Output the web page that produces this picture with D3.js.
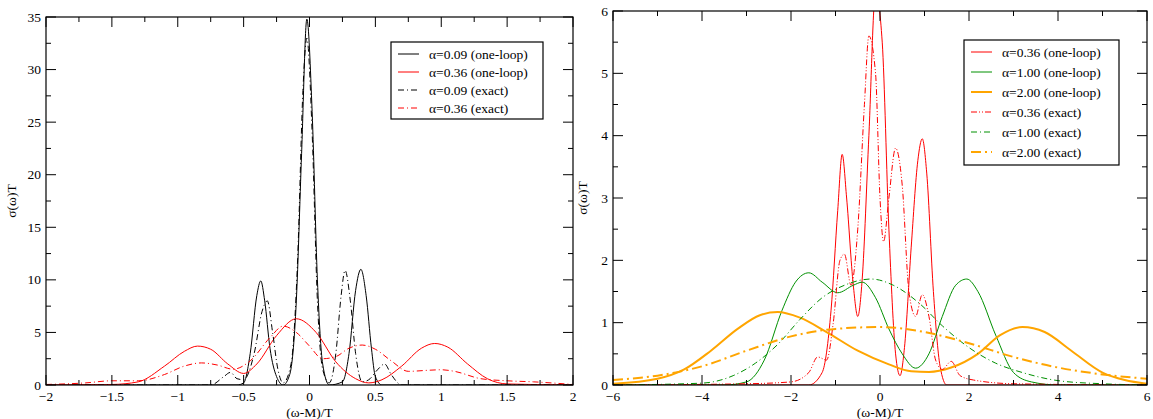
<!DOCTYPE html>
<html><head><meta charset="utf-8">
<script src="https://cdn.jsdelivr.net/npm/d3@7"></script>
<style>body{margin:0;background:#fff}text{font-family:"Liberation Serif",serif;}</style>
</head><body><svg id="c" width="1153" height="419"></svg>
<script>
// left panel
const L_loop009 = [[-2,0],[-0.55,0],[-0.5,0.2],[-0.45,3],[-0.4,8.5],[-0.37,9.9],[-0.34,8],[-0.3,3.5],[-0.25,0.8],[-0.2,0],[-0.15,1],[-0.1,8],[-0.06,22],[-0.02,34.8],[0.02,26],[0.06,10],[0.1,2],[0.15,0],[0.25,0.3],[0.3,3],[0.35,9],[0.39,11],[0.43,8.5],[0.47,3.5],[0.5,0.8],[0.55,0],[2,0]];
const L_loop036 = [[-2,0],[-1.5,0.05],[-1.3,0.3],[-1.1,1.8],[-0.95,3.2],[-0.85,3.7],[-0.75,3.4],[-0.62,2],[-0.5,1.1],[-0.4,2],[-0.25,4.7],[-0.1,6.3],[0.05,5],[0.2,2.2],[0.35,0.6],[0.45,0.2],[0.55,0.5],[0.7,1.8],[0.85,3.5],[0.95,3.95],[1.05,3.6],[1.2,2],[1.35,0.6],[1.5,0.1],[2,0]];
const L_exact009 = [[-2,0],[-0.75,0],[-0.65,0.8],[-0.6,1.2],[-0.55,0.6],[-0.5,0.5],[-0.42,3],[-0.36,7],[-0.32,8],[-0.28,5],[-0.24,1.5],[-0.2,0.2],[-0.14,2],[-0.09,12],[-0.05,28],[-0.02,33],[0.02,24],[0.06,8],[0.1,1.5],[0.15,0.2],[0.2,3],[0.24,8.5],[0.27,10.9],[0.31,8],[0.35,3],[0.4,0.3],[0.45,0.5],[0.52,1.5],[0.57,2],[0.62,1],[0.7,0],[2,0]];
const L_exact036 = [[-2,0.05],[-1.7,0.2],[-1.5,0.4],[-1.3,0.4],[-1.1,1],[-0.95,1.8],[-0.82,2.1],[-0.7,1.9],[-0.58,1.5],[-0.45,2.3],[-0.3,4.5],[-0.2,5.6],[-0.1,5],[0,3.7],[0.1,2.5],[0.2,2.7],[0.3,3.5],[0.4,3.8],[0.5,3.4],[0.62,2.3],[0.75,1.3],[0.9,1.4],[1.0,1.45],[1.1,1.3],[1.3,0.6],[1.5,0.4],[1.7,0.3],[2,0.05]];
// right panel
const R_loop036 = [[-6,0],[-1.6,0],[-1.3,0.2],[-1.1,1.2],[-0.95,2.8],[-0.85,3.7],[-0.75,3],[-0.6,1.6],[-0.5,1.1],[-0.4,1.7],[-0.25,4],[-0.1,6.3],[0.05,5.5],[0.2,2.5],[0.35,0.5],[0.45,0.15],[0.55,0.6],[0.7,2.2],[0.85,3.6],[0.95,3.95],[1.05,3.4],[1.2,1.5],[1.35,0.3],[1.5,0],[6,0]];
const R_loop100 = [[-6,0],[-3.5,0],[-3,0.05],[-2.6,0.4],[-2.2,1.2],[-1.9,1.65],[-1.6,1.8],[-1.3,1.65],[-0.95,1.48],[-0.6,1.6],[-0.4,1.65],[-0.1,1.4],[0.2,0.9],[0.5,0.5],[0.8,0.27],[1.1,0.5],[1.4,1.1],[1.7,1.6],[1.95,1.7],[2.2,1.5],[2.6,0.8],[3,0.2],[3.4,0.05],[4,0],[6,0]];
const R_loop200 = [[-6,0.02],[-5,0.1],[-4.4,0.25],[-3.8,0.55],[-3.2,0.9],[-2.7,1.12],[-2.3,1.17],[-1.8,1.08],[-1.2,0.85],[-0.5,0.55],[0.2,0.33],[0.7,0.22],[1.1,0.21],[1.6,0.28],[2.2,0.5],[2.7,0.8],[3.2,0.93],[3.7,0.85],[4.3,0.55],[5,0.2],[5.5,0.08],[6,0.02]];
const R_exact036 = [[-6,0],[-3,0.02],[-2,0.05],[-1.6,0.2],[-1.4,0.45],[-1.2,0.4],[-1.05,1],[-0.9,2],[-0.8,2.1],[-0.65,1.6],[-0.5,2.5],[-0.35,4.5],[-0.25,5.6],[-0.1,5],[0,3],[0.08,2.3],[0.2,3],[0.35,3.8],[0.5,3.2],[0.65,1.5],[0.8,1.1],[0.95,1.45],[1.1,1.1],[1.25,0.4],[1.4,0.25],[1.6,0.38],[1.8,0.15],[2.1,0.08],[3,0.02],[6,0]];
const R_exact100 = [[-6,0],[-4,0.03],[-3.3,0.15],[-2.8,0.35],[-2.3,0.65],[-1.8,1.05],[-1.3,1.4],[-0.8,1.6],[-0.2,1.7],[0.3,1.6],[0.9,1.3],[1.4,0.95],[2,0.6],[2.6,0.35],[3.2,0.2],[4,0.07],[5,0.02],[6,0]];
const R_exact200 = [[-6,0.08],[-5,0.15],[-4,0.3],[-3,0.55],[-2,0.78],[-1,0.9],[0,0.93],[1,0.85],[2,0.67],[3,0.45],[4,0.28],[5,0.17],[6,0.1]];

const RED = '#ff0000', GREEN = '#009000', ORANGE = '#ffa500';
const svg = d3.select('#c');

function panel(o) {
  const g = svg.append('g');
  const x = d3.scaleLinear().domain(o.xd).range([o.x0, o.x1]);
  const y = d3.scaleLinear().domain(o.yd).range([o.y1, o.y0]);
  const clipId = 'clip' + o.x0;
  svg.append('clipPath').attr('id', clipId).append('rect')
    .attr('x', o.x0).attr('y', o.y0).attr('width', o.x1 - o.x0).attr('height', o.y1 - o.y0);
  const line = d3.line().x(d => x(d[0])).y(d => y(d[1])).curve(d3.curveMonotoneX);
  const cg = g.append('g').attr('clip-path', `url(#${clipId})`);
  o.series.forEach(s => {
    cg.append('path').attr('d', line(s.data)).attr('fill', 'none')
      .attr('stroke', s.color).attr('stroke-width', s.w || 1)
      .attr('stroke-dasharray', s.dash || null);
  });
  // frame and ticks (inward, all sides)
  g.append('rect').attr('x', o.x0).attr('y', o.y0).attr('width', o.x1 - o.x0).attr('height', o.y1 - o.y0)
    .attr('fill', 'none').attr('stroke', '#000').attr('stroke-width', 1.2);
  const tk = (vals, len, axis) => vals.forEach(v => {
    if (axis === 'x') {
      const px = x(v);
      g.append('line').attr('x1', px).attr('x2', px).attr('y1', o.y1).attr('y2', o.y1 - len).attr('stroke', '#000');
      g.append('line').attr('x1', px).attr('x2', px).attr('y1', o.y0).attr('y2', o.y0 + len).attr('stroke', '#000');
    } else {
      const py = y(v);
      g.append('line').attr('y1', py).attr('y2', py).attr('x1', o.x0).attr('x2', o.x0 + len).attr('stroke', '#000');
      g.append('line').attr('y1', py).attr('y2', py).attr('x1', o.x1).attr('x2', o.x1 - len).attr('stroke', '#000');
    }
  });
  const xMaj = d3.range(o.xd[0], o.xd[1] + 1e-9, o.xs), yMaj = d3.range(o.yd[0], o.yd[1] + 1e-9, o.ys);
  tk(xMaj, 10, 'x'); tk(d3.range(o.xd[0] + o.xs / 2, o.xd[1], o.xs), 5, 'x');
  tk(yMaj, 10, 'y'); tk(d3.range(o.yd[0] + o.ys / 2, o.yd[1], o.ys), 5, 'y');
  xMaj.forEach(v => g.append('text').attr('x', x(v)).attr('y', o.y1 + 16).attr('text-anchor', 'middle')
    .attr('font-size', 13.5).text(d3.format('~g')(+v.toFixed(2))));
  yMaj.forEach(v => g.append('text').attr('x', o.x0 - 5).attr('y', y(v) + 4.5).attr('text-anchor', 'end')
    .attr('font-size', 13.5).text(+v.toFixed(2)));
  g.append('text').attr('x', (o.x0 + o.x1) / 2).attr('y', o.y1 + 32).attr('text-anchor', 'middle')
    .attr('font-size', 13.5).text('(ω-M)/T');
  g.append('text').attr('transform', `translate(${o.ylx},${(o.y0 + o.y1) / 2}) rotate(-90)`)
    .attr('text-anchor', 'middle').attr('font-size', 13.5).text('σ(ω)T');
  // legend
  const lg = g.append('g');
  lg.append('rect').attr('x', o.lx).attr('y', o.ly).attr('width', o.lw).attr('height', o.series.length * o.lh + 5)
    .attr('fill', '#fff').attr('stroke', '#000').attr('stroke-width', 1.2);
  o.series.forEach((s, i) => {
    const yy = o.ly + 12 + i * o.lh;
    lg.append('line').attr('x1', o.lx + 7).attr('x2', o.lx + 28).attr('y1', yy).attr('y2', yy)
      .attr('stroke', s.color).attr('stroke-width', s.w || 1).attr('stroke-dasharray', s.dash || null);
    lg.append('text').attr('x', o.lx + 38).attr('y', yy + 4.5).attr('font-size', 13.5).text(s.name);
  });
}

panel({
  x0: 46, x1: 573, y0: 17, y1: 385, xd: [-2, 2], yd: [0, 35], xs: 0.5, ys: 5, ylx: 16,
  lx: 391, ly: 42, lw: 152, lh: 18,
  series: [
    {name: 'α=0.09 (one-loop)', data: L_loop009, color: '#000'},
    {name: 'α=0.36 (one-loop)', data: L_loop036, color: RED},
    {name: 'α=0.09 (exact)', data: L_exact009, color: '#000', dash: '6,3,1,3'},
    {name: 'α=0.36 (exact)', data: L_exact036, color: RED, dash: '6,3,1,3'}
  ]
});
panel({
  x0: 613, x1: 1147, y0: 11, y1: 385, xd: [-6, 6], yd: [0, 6], xs: 2, ys: 1, ylx: 587,
  lx: 964, ly: 40, lw: 155, lh: 20,
  series: [
    {name: 'α=0.36 (one-loop)', data: R_loop036, color: RED},
    {name: 'α=1.00 (one-loop)', data: R_loop100, color: GREEN},
    {name: 'α=2.00 (one-loop)', data: R_loop200, color: ORANGE, w: 2},
    {name: 'α=0.36 (exact)', data: R_exact036, color: RED, dash: '6,2,1,2,1,2'},
    {name: 'α=1.00 (exact)', data: R_exact100, color: GREEN, dash: '6,3,1,3'},
    {name: 'α=2.00 (exact)', data: R_exact200, color: ORANGE, w: 2, dash: '10,4,2,4'}
  ]
});
</script></body></html>
